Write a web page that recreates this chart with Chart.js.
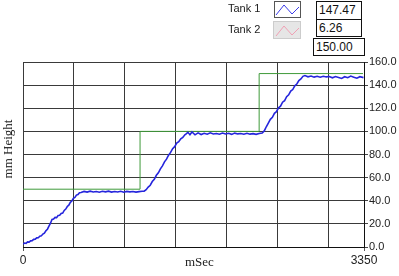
<!DOCTYPE html>
<html>
<head>
<meta charset="utf-8">
<script src="https://cdn.jsdelivr.net/npm/chart.js@4/dist/chart.umd.min.js"></script>
<style>
  html, body { margin: 0; padding: 0; background: #fff; }
  #wrap { position: relative; width: 399px; height: 276px; overflow: hidden; font-family: "Liberation Sans", Arial, sans-serif; }
  #myChart { position: absolute; left: 0; top: 0; }
  .lbl { position: absolute; font-size: 11px; color: #222; }
  .icon { position: absolute; box-sizing: border-box; }
  .val { position: absolute; box-sizing: border-box; border: 1px solid #111; background: #fff;
         font-size: 12px; line-height: 16px; padding-left: 2px; color: #111; }
  .ttl { position: absolute; font-family: "Liberation Serif", "Times New Roman", serif; font-size: 13px; color: #222; white-space: nowrap; }
</style>
</head>
<body>
<div id="wrap">
  <canvas id="myChart" width="399" height="276"></canvas>

  <!-- legend -->
  <div class="lbl" style="left:228px; top:2px;">Tank 1</div>
  <div class="lbl" style="left:228px; top:23px;">Tank 2</div>
  <svg class="icon" style="left:274px; top:1px;" width="27" height="17">
    <rect x="0.5" y="0.5" width="26" height="16" fill="#fff" stroke="#555"/>
    <polyline points="2,14 10,4 18,13 25,6" fill="none" stroke="#3a3ae8" stroke-width="1"/>
  </svg>
  <svg class="icon" style="left:273px; top:21px;" width="28" height="18">
    <rect x="0.5" y="0.5" width="27" height="17" fill="#e6e6e6" stroke="#ccc"/>
    <polyline points="3,15 11,5 19,14 26,7" fill="none" stroke="#f0a0b4" stroke-width="1"/>
  </svg>

  <!-- indicators -->
  <div class="val" style="left:316px; top:1px; width:46px; height:19px;">147.47</div>
  <div class="val" style="left:316px; top:19px; width:46px; height:18px;">6.26</div>
  <div class="val" style="left:313px; top:38px; width:52px; height:18px;">150.00</div>

  <!-- axis titles -->
  <div class="ttl" style="left:185px; top:254px;">mSec</div>
  <div class="ttl" style="left:-24px; top:141px; transform: rotate(-90deg); width:64px; text-align:center;">mm Height</div>
</div>

<script>
// Tank 1 level (blue)
const tank1Time = [0, 15, 30, 45, 60, 75, 90, 105, 120, 135, 150, 165, 180, 195, 210, 225, 240, 255, 270, 285,
  300, 315, 330, 345, 360, 375, 390, 405, 420, 435, 450, 465, 480, 495, 510, 525, 540, 555, 570,
  600, 630, 660, 690, 720, 750, 780, 810, 840, 870, 900, 930, 960, 990, 1020, 1050, 1080, 1110, 1140, 1170,
  1190, 1210, 1230, 1250, 1270, 1290, 1310, 1330, 1350, 1370, 1390, 1410, 1430, 1450, 1470, 1490, 1510, 1530,
  1550, 1570, 1590, 1600, 1620, 1640, 1660, 1690, 1720,
  1750, 1780, 1810, 1840, 1870, 1900, 1930, 1960, 1990, 2020, 2050, 2080, 2110, 2140, 2170, 2200, 2230, 2260,
  2290, 2320, 2350, 2370, 2390, 2410, 2430, 2450, 2470, 2490, 2510, 2530, 2550, 2570, 2590, 2610, 2630, 2650,
  2670, 2690, 2710, 2730, 2750, 2770, 2800, 2830, 2860, 2890,
  2920, 2950, 2980, 3010, 3040, 3070, 3100, 3130, 3160, 3190, 3220, 3250, 3280, 3310, 3345];
const tank1Level = [2.5, 3.4, 3.2, 4.4, 4.2, 5.3, 5.5, 6.6, 6.8, 7.9, 8.0, 9.3, 9.6, 11.2, 12.0, 14.0, 15.4, 18.0, 20.6, 23.8,
  24.2, 25.6, 25.4, 27.2, 27.4, 29.0, 29.3, 31.6, 32.8, 35.0, 36.2, 38.6, 39.8, 42.0, 42.8, 44.9, 45.4, 47.0, 47.2,
  48.1, 47.5, 48.3, 47.6, 48.0, 47.4, 48.2, 47.7, 48.3, 47.5, 48.0, 47.6, 48.2, 47.4, 48.1, 47.7, 48.0, 47.5, 47.9, 48.2,
  48.3, 49.6, 51.8, 53.4, 56.6, 58.6, 62.0, 64.2, 67.6, 70.2, 73.6, 76.0, 79.4, 81.8, 85.0, 86.8, 89.8, 91.0,
  93.6, 94.8, 97.0, 97.6, 99.2, 97.1, 99.5, 97.0, 98.7,
  97.3, 98.4, 97.6, 98.8, 97.8, 98.2, 97.5, 98.6, 97.7, 98.3, 97.4, 98.5, 97.8, 98.1, 97.5, 98.4, 97.6, 98.0,
  97.4, 98.2, 98.6, 100.4, 104.0, 107.2, 110.4, 112.2, 115.6, 117.0, 120.4, 121.8, 125.2, 126.6, 130.0, 131.6, 134.8, 136.2,
  139.4, 141.0, 144.0, 145.4, 147.6, 148.3, 147.2, 147.9, 146.9, 147.6,
  146.8, 147.7, 147.1, 147.5, 146.3, 147.4, 146.6, 145.8, 147.3, 146.4, 147.8, 146.9, 146.0, 147.3, 146.5];

// setpoint (green)
const setTime = [0, 1150, 1150, 2320, 2320, 3340];
const setLevel = [50, 50, 100, 100, 150, 150];

const xGridTicks = [0, 500, 1000, 1500, 2000, 2500, 3000, 3350];
const xLabelTicks = [0, 3350];

const toXY = (xs, ys) => xs.map((x, i) => ({ x: x, y: ys[i] }));

const data = {
  datasets: [
    {
      label: 'Setpoint',
      data: toXY(setTime, setLevel),
      borderColor: '#3f9a3a',
      borderWidth: 1,
      pointRadius: 0,
      tension: 0,
      order: 2
    },
    {
      label: 'Tank 1',
      data: toXY(tank1Time, tank1Level),
      borderColor: '#2525dc',
      borderWidth: 1.6,
      pointRadius: 0,
      tension: 0,
      order: 1
    }
  ]
};

const options = {
  responsive: false,
  animation: false,
  layout: { padding: { left: 23, top: 62, right: 0, bottom: 0 } },
  plugins: { legend: { display: false }, tooltip: { enabled: false } },
  scales: {
    x: {
      type: 'linear',
      min: 0,
      max: 3350,
      afterBuildTicks: (scale) => { scale.ticks = xGridTicks.map(v => ({ value: v })); },
      afterFit: (scale) => { scale.height = 29; },
      grid: {
        color: '#3a3a3a',
        lineWidth: 1,
        tickLength: 4,
        tickColor: (ctx) => xLabelTicks.includes(ctx.tick && ctx.tick.value) ? '#555' : 'rgba(0,0,0,0)'
      },
      border: { color: '#111', width: 1 },
      ticks: {
        autoSkip: false,
        maxRotation: 0,
        padding: 2,
        color: '#222',
        font: { family: 'Liberation Sans', size: 12 },
        callback: (v) => xLabelTicks.includes(v) ? String(v) : ''
      }
    },
    y: {
      position: 'right',
      min: 0,
      max: 160,
      afterFit: (scale) => { scale.width = 35; },
      grid: { color: '#3a3a3a', lineWidth: 1, tickLength: 4, tickColor: '#444' },
      border: { color: '#111', width: 1 },
      ticks: {
        stepSize: 20,
        padding: 1,
        color: '#222',
        font: { family: 'Liberation Sans', size: 11 },
        callback: (v) => v.toFixed(1)
      }
    }
  }
};

const ctx = document.getElementById('myChart').getContext('2d');
const levelChart = new Chart(ctx, { type: 'line', data: data, options: options });
</script>
</body>
</html>
